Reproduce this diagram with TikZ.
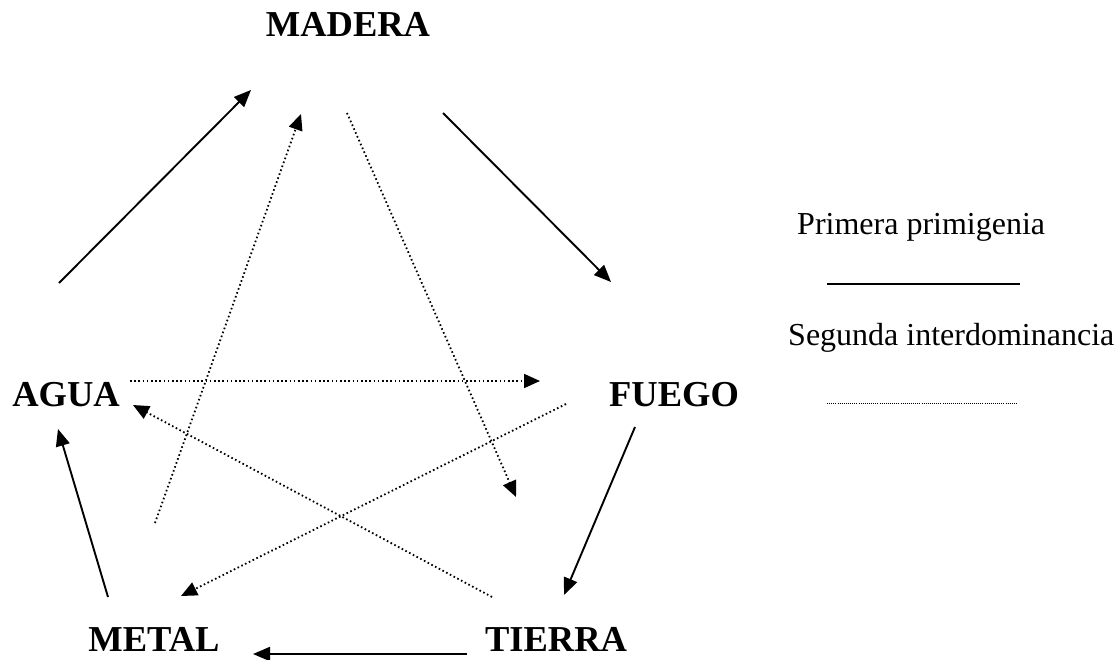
\documentclass[tikz,border=0pt]{standalone}
\usepackage{fontspec}
\setmainfont{Liberation Serif}
\usetikzlibrary{arrows.meta}
\begin{document}
\begin{tikzpicture}[x=1pt,y=-1pt,
  elem/.style={inner sep=0pt, anchor=base, font=\fontsize{36.5}{40}\selectfont\bfseries},
  legtext/.style={inner sep=0pt, anchor=base west, font=\fontsize{32}{36}\selectfont},
  solidarrow/.style={line width=1.9pt, -{Triangle[length=17pt,width=14pt]}},
  dotarrow/.style={line width=1.8pt, dash pattern=on 1.6pt off 2.6pt, -{Triangle[length=16pt,width=14pt]}},
]
\useasboundingbox (0,0) rectangle (1118,660);
% element labels
\node[elem] (madera) at (348,37) {MADERA};
\node[elem] (agua) at (66,406) {AGUA};
\node[elem] (fuego) at (674,406) {FUEGO};
\node[elem] (metal) at (154,651) {METAL};
\node[elem] (tierra) at (556,651) {TIERRA};
% connector end points
\coordinate (aM1) at (59,283);   \coordinate (aM2) at (251,90);
\coordinate (mF1) at (443,113);  \coordinate (mF2) at (611,282);
\coordinate (fT1) at (635,427);  \coordinate (fT2) at (564,595);
\coordinate (tM1) at (467,654);  \coordinate (tM2) at (253,654);
\coordinate (mA1) at (108,597);  \coordinate (mA2) at (58,429);
\coordinate (aF1) at (130,381);  \coordinate (aF2) at (540,381);
\coordinate (tA1) at (492,597);  \coordinate (tA2) at (133,405);
\coordinate (meM1) at (155,523); \coordinate (meM2) at (301,114);
\coordinate (maT1) at (347,113); \coordinate (maT2) at (516,497);
\coordinate (fMe1) at (566,404); \coordinate (fMe2) at (181,596);
% primary cycle (solid)
\draw[solidarrow] (aM1) -- (aM2);
\draw[solidarrow] (mF1) -- (mF2);
\draw[solidarrow] (fT1) -- (fT2);
\draw[solidarrow] (tM1) -- (tM2);
\draw[solidarrow] (mA1) -- (mA2);
% second cycle (dotted)
\draw[dotarrow] (aF1) -- (aF2);
\draw[dotarrow] (tA1) -- (tA2);
\draw[dotarrow] (meM1) -- (meM2);
\draw[dotarrow] (maT1) -- (maT2);
\draw[dotarrow] (fMe1) -- (fMe2);
% legend
\node[legtext] (leg1) at (797,235) {Primera primigenia};
\coordinate (l1a) at (827,284); \coordinate (l1b) at (1020,284);
\draw[line width=1.9pt] (l1a) -- (l1b);
\node[legtext] (leg2) at (788,345) {Segunda interdominancia};
\coordinate (l2a) at (827,403); \coordinate (l2b) at (1017,403);
\draw[line width=1pt, dash pattern=on 0.9pt off 1.2pt] (l2a) -- (l2b);
\end{tikzpicture}
\end{document}
